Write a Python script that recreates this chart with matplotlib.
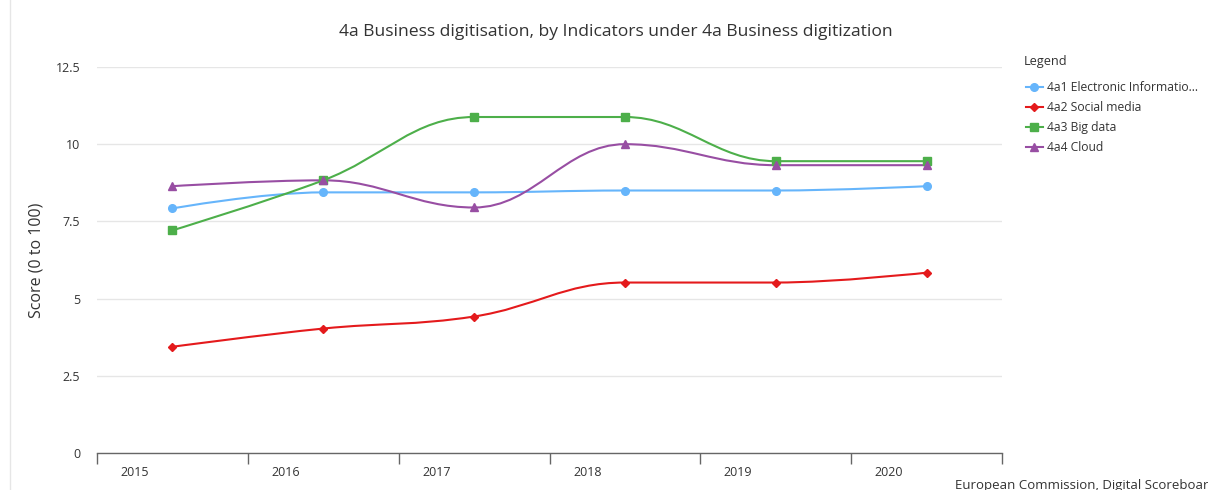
import numpy as np
import matplotlib
matplotlib.use("Agg")
import matplotlib.pyplot as plt
from matplotlib.path import Path
from matplotlib.patches import PathPatch
from matplotlib.lines import Line2D

plt.rcParams["font.family"] = ["Open Sans", "DejaVu Sans"]

years = ["2015", "2016", "2017", "2018", "2019", "2020"]
series_names = ["4a1 Electronic Informatio...", "4a2 Social media", "4a3 Big data", "4a4 Cloud"]
electronic_info = [7.92, 8.44, 8.44, 8.50, 8.50, 8.64]
social_media = [3.44, 4.03, 4.42, 5.52, 5.52, 5.84]
big_data = [7.21, 8.83, 10.88, 10.88, 9.45, 9.45]
cloud = [8.64, 8.83, 7.95, 10.00, 9.32, 9.32]
colors = ["#66b5fb", "#e41a1c", "#4daf4a", "#984ea3"]
markers = ["o", "D", "s", "^"]
marker_sizes = [5.5, 4.0, 5.5, 6.0]


def spline_path(xs, ys, smoothing=1.5):
    # highcharts-like spline: cubic bezier with control points per point
    n = len(xs)
    denom = smoothing + 1
    left = [(xs[i], ys[i]) for i in range(n)]
    right = [(xs[i], ys[i]) for i in range(n)]
    for i in range(1, n - 1):
        px, py = xs[i], ys[i]
        lx, ly = xs[i - 1], ys[i - 1]
        nx, ny = xs[i + 1], ys[i + 1]
        lcx = (smoothing * px + lx) / denom
        lcy = (smoothing * py + ly) / denom
        rcx = (smoothing * px + nx) / denom
        rcy = (smoothing * py + ny) / denom
        if rcx != lcx:
            corr = (rcy - lcy) * (rcx - px) / (rcx - lcx) + py - rcy
            lcy += corr
            rcy += corr
        if lcy > ly and lcy > py:
            lcy = max(ly, py)
            rcy = 2 * py - lcy
        elif lcy < ly and lcy < py:
            lcy = min(ly, py)
            rcy = 2 * py - lcy
        if rcy > ny and rcy > py:
            rcy = max(ny, py)
            lcy = 2 * py - rcy
        elif rcy < ny and rcy < py:
            rcy = min(ny, py)
            lcy = 2 * py - rcy
        left[i] = (lcx, lcy)
        right[i] = (rcx, rcy)
    verts = [(xs[0], ys[0])]
    codes = [Path.MOVETO]
    for i in range(1, n):
        verts += [right[i - 1], left[i], (xs[i], ys[i])]
        codes += [Path.CURVE4] * 3
    return Path(verts, codes)


fig = plt.figure(figsize=(12.08, 4.9), dpi=100)
ax = fig.add_axes([0.0803, 0.0755, 0.7492, 0.7878])

x = np.arange(len(years))
all_series = [electronic_info, social_media, big_data, cloud]
for vals, c, m, ms in zip(all_series, colors, markers, marker_sizes):
    ax.add_patch(PathPatch(spline_path(x, vals), facecolor="none", edgecolor=c, lw=1.5, zorder=3))
    ax.plot(x, vals, linestyle="none", marker=m, color=c, markersize=ms, zorder=4)

ax.set_xlim(-0.5, len(years) - 0.5)
ax.set_ylim(0, 12.5)
ax.set_yticks(np.arange(0, 12.51, 2.5))
ax.set_yticklabels(["0", "2.5", "5", "7.5", "10", "12.5"])
ax.tick_params(axis="y", length=0, pad=12, labelsize=9, labelcolor="#333333")
ax.grid(axis="y", color="#e6e6e6", lw=1)
ax.set_axisbelow(True)

ax.set_xticks(np.arange(-0.5, len(years)), labels=[""] * (len(years) + 1))
ax.set_xticks(x - 0.25, labels=years, minor=True)
ax.tick_params(axis="x", which="major", length=8, width=1, color="#666666", direction="out")
ax.tick_params(axis="x", which="minor", length=0, pad=9, labelsize=9, labelcolor="#333333")

for s in ["top", "right", "left"]:
    ax.spines[s].set_visible(False)
ax.spines["bottom"].set_color("#666666")
ax.spines["bottom"].set_linewidth(1)

ax.set_ylabel("Score (0 to 100)", fontsize=11.5, color="#333333", labelpad=8)
fig.text(0.51, (490 - 32) / 490, "4a Business digitisation, by Indicators under 4a Business digitization",
         ha="center", va="center", fontsize=12.6, color="#333333")

# legend
fig.text(1024 / 1208, (490 - 61) / 490, "Legend", ha="left", va="center", fontsize=9.2, color="#333333")
handles = [Line2D([0], [0], color=c, marker=m, markersize=ms, lw=1.5)
           for c, m, ms in zip(colors, markers, marker_sizes)]
leg = fig.legend(handles, series_names, loc="upper left", bbox_to_anchor=(0.840, 0.857),
                 frameon=False, fontsize=8.7,
                 handlelength=1.4, handletextpad=0.35, labelspacing=0.58)
for t in leg.get_texts():
    t.set_color("#333333")

fig.add_artist(Line2D([10 / 1208, 10 / 1208], [0, 1], color="#e6e6e6", lw=1))
fig.text(955 / 1208, 5 / 490, "European Commission, Digital Scoreboard", ha="left", va="center",
         fontsize=9.5, color="#333333")

fig.savefig("out.png", dpi=100)
